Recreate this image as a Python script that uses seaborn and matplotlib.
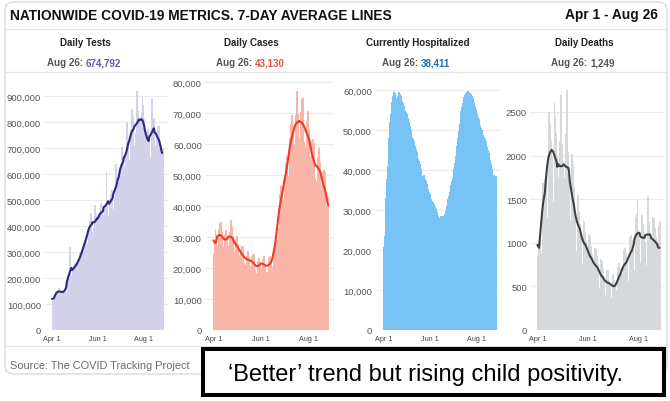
import numpy as np
import pandas as pd
import matplotlib
matplotlib.use("Agg")
import matplotlib.pyplot as plt
import seaborn as sns
from matplotlib.patches import FancyBboxPatch, Rectangle
from matplotlib.lines import Line2D

# ---------------- data ----------------
start_date = "2020-04-01"
end_date = "2020-08-26"

tick_dates = ["2020-04-01", "2020-06-01", "2020-08-01"]
tick_labels = ["Apr 1", "Jun 1", "Aug 1"]

# Daily tests (thousands)
tests_k = [100,118,130,131,121,126,142,
           155,161,162,151,134,132,142,
           150,155,159,150,138,146,167,
           182,201,320,222,206,207,227,
           241,250,257,247,228,231,253,
           270,284,298,290,269,273,302,
           325,346,363,353,326,331,367,
           396,418,450,420,377,368,393,
           413,480,443,424,388,389,424,
           453,474,489,467,422,415,444,
           467,485,610,479,438,438,475,
           504,523,537,511,466,467,509,
           541,640,585,565,521,529,588,
           639,678,703,661,591,581,632,
           675,800,734,704,649,655,720,
           773,850,821,779,706,701,757,
           798,920,842,804,732,733,798,
           838,895,866,811,723,703,740,
           762,772,780,734,664,660,713,
           890,790,815,780,711,699,743,
           770,785,786,726,672,660,690,
           700]

# Daily cases (thousands)
cases_k = [24.5,28.0,32.5,30.7,27.2,25.8,27.8,
           32.6,34.4,34.7,31.7,27.6,25.6,26.8,
           30.7,31.9,32.3,30.2,27.1,25.8,27.5,
           31.7,35.5,33.2,30.4,26.7,24.8,25.9,
           29.4,30.3,30.2,27.7,24.2,22.4,23.2,
           26.3,27.1,27.1,25.0,21.7,20.0,20.9,
           24.0,25.1,25.4,23.5,20.7,19.3,20.4,
           23.5,24.4,24.4,22.3,19.3,17.7,18.4,
           21.2,22.4,23.3,22.0,19.7,18.6,19.8,
           22.9,23.8,23.5,21.3,18.6,17.5,18.7,
           22.1,23.4,23.9,22.0,19.8,18.9,20.4,
           25.2,28.1,30.8,30.6,29.0,29.2,32.8,
           39.9,44.0,46.5,44.7,40.9,39.1,42.3,
           49.9,53.9,56.6,54.1,49.7,48.2,52.3,
           62.0,66.6,69.4,65.5,58.9,55.9,59.6,
           69.3,73.2,77.0,69.7,61.8,57.8,61.2,
           70.4,74.5,74.8,69.2,60.7,56.2,58.7,
           67.2,70.2,70.6,64.5,56.1,51.6,54.1,
           60.9,61.6,60.5,55.1,48.9,45.8,48.2,
           55.4,57.9,58.8,54.1,46.9,43.0,45.3,
           50.9,51.7,51.0,46.2,40.0,38.0,40.0,
           43.1]

# Currently hospitalized (thousands)
hosp_k = [20.7,23.5,27.8,33.0,37.8,41.0,43.6,
          48.0,51.9,54.0,55.7,57.0,58.5,59.6,
          59.8,59.2,58.0,56.9,58.5,59.6,59.5,
          59.0,58.5,57.8,57.3,56.8,56.0,55.4,
          54.8,54.5,54.0,53.5,52.9,52.0,51.0,
          50.0,49.0,48.2,47.8,47.2,46.6,46.1,
          45.2,44.4,43.6,42.8,42.3,41.4,40.2,
          39.4,38.6,38.4,38.8,38.2,37.8,37.2,
          36.6,36.0,35.2,34.4,33.9,33.4,32.8,
          32.3,31.9,31.5,31.1,30.7,30.2,29.6,
          29.0,28.5,27.9,27.8,28.6,28.4,28.6,
          28.4,28.3,28.4,29.0,29.8,31.1,32.0,
          32.8,33.5,34.4,35.3,36.2,37.2,38.0,
          38.6,40.2,41.8,43.4,45.0,46.1,48.0,
          49.8,51.6,53.6,54.8,55.8,56.8,57.8,
          58.3,58.7,59.0,59.3,59.6,59.8,59.6,
          59.4,59.2,58.9,58.6,58.0,57.3,56.7,
          56.1,55.3,54.6,53.9,53.2,52.8,52.1,
          51.3,50.6,49.9,49.4,48.8,48.2,47.7,
          47.3,46.6,45.8,45.0,44.2,43.6,42.6,
          41.4,40.2,39.0,38.8,38.7,38.6,38.5,
          38.4]

# Daily deaths
deaths = [850,950,1000,1100,896,858,1688,
          1688,1725,1733,1682,1281,1235,2500,
          2500,2358,2180,1981,1463,1362,2613,
          2450,2255,1995,1758,1293,1170,2165,
          2700,2133,1943,1748,1281,1188,2250,
          2750,2036,1869,1710,1266,1138,2021,
          1900,1640,1449,1264,910,827,1550,
          1513,1357,1216,1064,756,676,1258,
          1238,1127,1024,919,658,592,1100,
          1065,960,856,755,543,497,944,
          931,849,756,665,476,430,813,
          788,702,614,546,396,363,690,
          684,621,562,504,368,338,645,
          638,575,515,454,350,351,725,
          763,716,683,646,490,467,919,
          938,880,815,751,567,540,1065,
          1094,1035,971,901,683,650,1288,
          1329,1500,1150,1046,763,696,1319,
          1315,1210,1108,1007,744,691,1335,
          1520,1236,1129,1017,742,683,1300,
          1288,1173,1061,950,690,631,1194,
          1249]

tests_yticks = [0, 100, 200, 300, 400, 500, 600, 700, 800, 900]
tests_ylabels = ["0", "100,000", "200,000", "300,000", "400,000", "500,000",
                 "600,000", "700,000", "800,000", "900,000"]
cases_yticks = [0, 10, 20, 30, 40, 50, 60, 70, 80]
cases_ylabels = ["0", "10,000", "20,000", "30,000", "40,000", "50,000",
                 "60,000", "70,000", "80,000"]
hosp_yticks = [0, 10, 20, 30, 40, 50, 60]
hosp_ylabels = ["0", "10,000", "20,000", "30,000", "40,000", "50,000", "60,000"]
deaths_yticks = [0, 500, 1000, 1500, 2000, 2500]
deaths_ylabels = ["0", "500", "1000", "1500", "2000", "2500"]

titles = ["Daily Tests", "Daily Cases", "Currently Hospitalized", "Daily Deaths"]
latest_labels = ["674,792", "43,130", "38,411", "1,249"]

# ---------------- setup ----------------
sns.set_style("white")
plt.rcParams['font.family'] = ['Liberation Sans', 'DejaVu Sans']

W, H = 670, 402
dates = pd.date_range(start_date, end_date, freq="D")
days = np.arange(len(dates))
tick_pos = [int((pd.Timestamp(d) - dates[0]).days) for d in tick_dates]

fig = plt.figure(figsize=(W / 100, H / 100), dpi=100)

def fx(x):
    return x / W

def fy(y):
    return 1 - y / H

# card background
card = FancyBboxPatch((5 / 100, (H - 375) / 100), 662 / 100, 372 / 100,
                      boxstyle="round,pad=0,rounding_size=0.09",
                      transform=fig.dpi_scale_trans, facecolor="white",
                      edgecolor="#d6dce4", linewidth=1.0, zorder=-1)
fig.add_artist(card)
for yy in (30, 73, 347):
    fig.add_artist(Line2D([fx(5), fx(667)], [fy(yy), fy(yy)], transform=fig.transFigure,
                          color="#e2e5e9", lw=0.9, zorder=-0.5))

fig.text(fx(10), fy(15.5), "NATIONWIDE COVID-19 METRICS. 7-DAY AVERAGE LINES",
         fontsize=9.9, fontweight="bold", color="#111111", ha="left", va="center")
fig.text(fx(658), fy(15.5), "Apr 1 - Aug 26", fontsize=9.9, fontweight="bold",
         color="#111111", ha="right", va="center")
fig.text(fx(10), fy(366), "Source: The COVID Tracking Project", fontsize=7.9,
         color="#6b6b6b", ha="left", va="center")

panels = [
    dict(data=tests_k, bar="#d3d2ea", line="#2b2a7c", num="#5d5ca8",
         x0=44, x1=168, day0=51.9, ppd=0.75, ymax=965,
         yt=tests_yticks, yl=tests_ylabels, tc=85.5, lx=46.7),
    dict(data=cases_k, bar="#fbb4a8", line="#e83e25", num="#e5533d",
         x0=205, x1=334, day0=213.4, ppd=0.78, ymax=81.0,
         yt=cases_yticks, yl=cases_ylabels, tc=251.7, lx=216),
    dict(data=hosp_k, bar="#78c3f5", line=None, num="#1f6fb8",
         x0=375, x1=501, day0=383.4, ppd=0.765, ymax=62.75,
         yt=hosp_yticks, yl=hosp_ylabels, tc=417.8, lx=381.7),
    dict(data=deaths, bar="#d5d9dc", line="#404040", num="#555555",
         x0=530, x1=664, day0=537.4, ppd=0.83, ymax=2878,
         yt=deaths_yticks, yl=deaths_ylabels, tc=584, lx=551),
]

for i, p in enumerate(panels):
    vals = np.asarray(p["data"], dtype=float)
    ax = fig.add_axes([fx(p["x0"]), fy(331), (p["x1"] - p["x0"]) / W, (331 - 80) / H])
    ax.set_facecolor("none")
    sns.barplot(x=days, y=vals, native_scale=True, width=1.0, color=p["bar"],
                saturation=1, errorbar=None, linewidth=0.75, edgecolor=p["bar"], ax=ax)
    if p["line"] is not None:
        avg = pd.Series(vals).rolling(7, center=True, min_periods=1).mean()
        sns.lineplot(x=days, y=avg.values, color=p["line"], linewidth=1.5,
                     estimator=None, ax=ax, zorder=3)
    ax.set_xlim((p["x0"] - p["day0"]) / p["ppd"], (p["x1"] - p["day0"]) / p["ppd"])
    ax.set_ylim(0, p["ymax"])
    ax.set_yticks(p["yt"])
    ax.set_yticklabels(p["yl"])
    ax.set_xticks(tick_pos)
    ax.set_xticklabels(tick_labels)
    ax.set_xlabel("")
    ax.set_ylabel("")
    ax.yaxis.grid(True, color="#ececec", lw=0.8)
    ax.xaxis.grid(False)
    ax.set_axisbelow(True)
    for s in ax.spines.values():
        s.set_visible(False)
    ax.tick_params(axis="y", length=0, pad=2.2, labelsize=6.8, labelcolor="#555555")
    ax.tick_params(axis="x", length=0, pad=3.5, labelsize=5.2, labelcolor="#444444")

    fig.text(fx(p["tc"]), fy(43), titles[i], fontsize=7, fontweight="bold",
             color="#222222", ha="center", va="center")
    t1 = fig.text(fx(p["lx"]), fy(63.5), "Aug 26:", fontsize=7, fontweight="bold",
                  color="#555555", ha="left", va="center")
    ax.annotate(latest_labels[i], xy=(1, 0.5), xycoords=t1, xytext=(2.0, 0),
                textcoords="offset points", fontsize=7, fontweight="bold",
                color=p["num"], ha="left", va="center", annotation_clip=False)

# callout box
box = Rectangle((203 / 100, (H - 396) / 100), 461 / 100, 46 / 100,
                transform=fig.dpi_scale_trans, facecolor="white", edgecolor="black",
                linewidth=2.9, zorder=10)
fig.add_artist(box)
fig.text(fx(426), fy(381.5), "\u2018Better\u2019 trend but rising child positivity.",
         fontsize=17, color="black", ha="center", va="baseline", zorder=11)

fig.savefig("out.png", dpi=100)
